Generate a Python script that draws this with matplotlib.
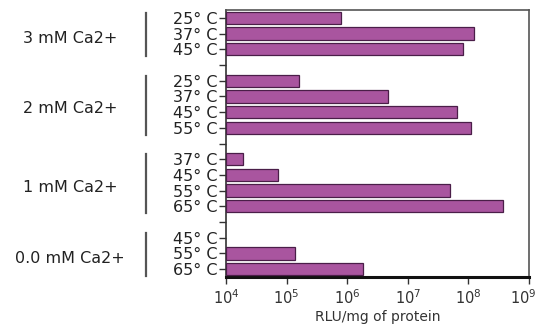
import numpy as np
import matplotlib
matplotlib.use("Agg")
import matplotlib.pyplot as plt
from matplotlib.transforms import blended_transform_factory, ScaledTranslation

groups = ["3 mM Ca2+", "2 mM Ca2+", "1 mM Ca2+", "0.0 mM Ca2+"]
temps = [["25° C", "37° C", "45° C"],
         ["25° C", "37° C", "45° C", "55° C"],
         ["37° C", "45° C", "55° C", "65° C"],
         ["45° C", "55° C", "65° C"]]
values = [[8.0e5, 1.25e8, 8.3e7],
          [1.6e5, 4.7e6, 6.6e7, 1.1e8],
          [1.9e4, 7.1e4, 5.0e7, 3.7e8],
          [None, 1.4e5, 1.8e6]]
xticks = [1e4, 1e5, 1e6, 1e7, 1e8, 1e9]
xticklabels = [r"$10^{4}$", r"$10^{5}$", r"$10^{6}$", r"$10^{7}$", r"$10^{8}$", r"$10^{9}$"]
xlabel = "RLU/mg of protein"

fig = plt.figure(figsize=(5.4, 3.28), dpi=100)
ax = fig.add_axes([0.4185, 0.1555, 0.561, 0.814])
ax.set_xscale("log")
ax.set_xlim(1e4, 1e9)

ypos = []
ylabels = []
group_ranges = []
y = 0
for gi, (g, ts, vs) in enumerate(zip(groups, temps, values)):
    start = y
    for t, v in zip(ts, vs):
        ypos.append(y)
        ylabels.append(t)
        if v is not None:
            ax.barh(y, v - 1e4, left=1e4, height=0.78, color="#a9559f",
                    edgecolor="#4a1e48", linewidth=0.9, zorder=3)
        y += 1
    group_ranges.append((start, y - 1))
    if gi < len(groups) - 1:
        ypos.append(y)
        ylabels.append("")
        y += 1

ax.set_ylim(y - 0.5, -0.5)
ax.set_yticks(ypos)
ax.set_yticklabels(ylabels, fontsize=11.5, color="#222222")
ax.tick_params(axis="y", length=5, width=1, pad=1, colors="#333333", labelcolor="#222222")
ax.set_xticks(xticks)
ax.set_xticklabels(xticklabels, fontsize=10.5, color="#333333")
ax.xaxis.set_minor_locator(matplotlib.ticker.NullLocator())
ax.tick_params(axis="x", length=5, width=1, pad=3, colors="#333333")
last = ax.get_xticklabels()[-1]
last.set_transform(last.get_transform() + ScaledTranslation(-6 / 100, 0, fig.dpi_scale_trans))
ax.set_xlabel(xlabel, fontsize=10, color="#333333", labelpad=2)

for s in ["top", "right"]:
    ax.spines[s].set_color("#555555")
    ax.spines[s].set_linewidth(1.2)
ax.spines["left"].set_color("#333333")
ax.spines["left"].set_linewidth(1.2)
ax.spines["bottom"].set_color("#111111")
ax.spines["bottom"].set_linewidth(2.2)

tr = blended_transform_factory(fig.transFigure, ax.transData)
for g, (a, b) in zip(groups, group_ranges):
    ax.plot([146 / 540, 146 / 540], [a - 0.3, b + 0.45], transform=tr, color="#555555",
            lw=1.6, clip_on=False)
    ax.text(70 / 540, (a + b) / 2 + 0.3, g, transform=tr, ha="center", va="center",
            fontsize=11.5, color="#222222")

fig.savefig("out.png", dpi=100)
